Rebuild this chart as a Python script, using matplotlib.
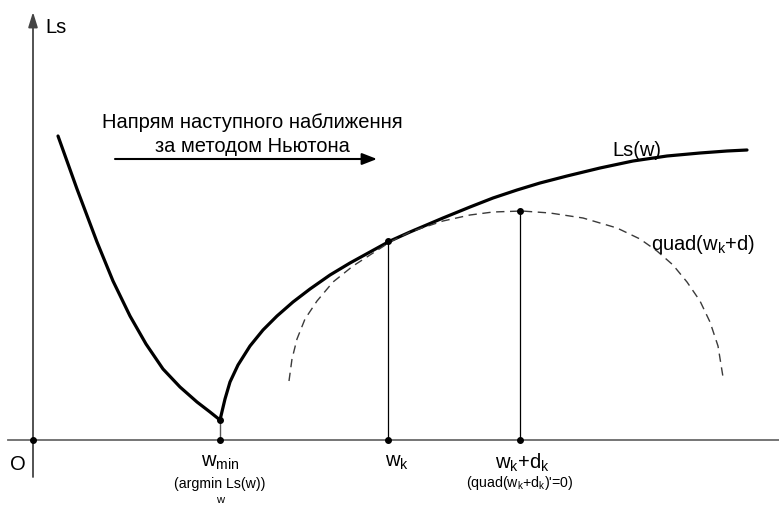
import matplotlib.pyplot as plt

plt.rcParams['font.family'] = ['Liberation Sans', 'DejaVu Sans']
plt.rcParams['mathtext.fontset'] = 'custom'
plt.rcParams['mathtext.rm'] = 'Liberation Sans'
plt.rcParams['mathtext.it'] = 'Liberation Sans'

# loss curve Ls(w), left branch down to the minimum and right branch after it
ls_left_w = [25, 44, 64, 80, 97, 113, 130, 147, 164, 177, 187]
ls_left_v = [304, 251, 198, 159, 124, 96, 71, 53, 38, 28, 20]
ls_right_w = [187, 192, 197, 205, 217, 230, 244, 260, 277, 297, 317, 337, 357, 377, 410, 437,
              460, 484, 507, 534, 567, 600, 634, 667, 694, 714]
ls_right_v = [20, 41, 58, 75, 94, 110, 124, 138, 151, 165, 177, 188, 199, 208, 222, 233,
              242, 250, 257, 264, 272, 279, 284, 287, 289, 290]

# quadratic model around w_k
quad_w = [256, 259, 264, 272, 284, 300, 320, 357, 377, 410, 437, 460, 489, 517, 550, 584,
          607, 624, 640, 654, 667, 677, 685, 690]
quad_v = [59, 81, 101, 121, 139, 158, 174, 198, 208, 219, 225, 228, 229, 227, 222, 212,
          201, 189, 175, 158, 139, 118, 94, 63]

# marked points: w_min, w_k, w_k + d_k
w_min, ls_min = 187, 20
w_k, ls_k = 355, 199
w_next, quad_peak = 487, 229

fig = plt.figure(figsize=(7.79, 5.06), dpi=100)
ax = fig.add_axes([0, 0, 1, 1])
ax.set_xlim(-33, 746)
ax.set_ylim(-65, 441)
ax.axis('off')

axis_col = '#6a6a6a'
# axes
ax.plot([-25, 746], [0, 0], color=axis_col, lw=1.3, zorder=1)
ax.annotate('', xy=(0, 428), xytext=(0, -37),
            arrowprops=dict(arrowstyle='-|>,head_length=0.9,head_width=0.28',
                            color='#444444', lw=1.3, shrinkA=0, shrinkB=0))

# curves
ax.plot(ls_left_w, ls_left_v, color='black', lw=2.3, solid_capstyle='round', solid_joinstyle='round')
ax.plot(ls_right_w, ls_right_v, color='black', lw=2.3, solid_capstyle='round', solid_joinstyle='round')
ax.plot(quad_w, quad_v, color='#3a3a3a', lw=1.0, dashes=(6, 4))

# drop lines
ax.plot([w_min, w_min], [0, ls_min], color='#555555', lw=1.0)
ax.plot([w_k, w_k], [0, ls_k], color='black', lw=0.9)
ax.plot([w_next, w_next], [0, quad_peak], color='black', lw=0.9)

# dots
ax.plot([0, w_min, w_k, w_next, w_min, w_k, w_next], [0, 0, 0, 0, ls_min, ls_k, quad_peak],
        'o', color='black', ms=4, zorder=5)

# Newton step direction arrow
ax.annotate('', xy=(344, 281), xytext=(82, 281),
            arrowprops=dict(arrowstyle='-|>,head_length=0.9,head_width=0.35',
                            color='black', lw=1.5, shrinkA=0, shrinkB=0))

big = 14.5
small = 10.2
ax.text(12, 414, 'Ls', fontsize=big, ha='left', va='center')
ax.text(-15, -24, 'O', fontsize=big, ha='center', va='center')
ax.text(219, 319, 'Напрям наступного наближення', fontsize=big, ha='center', va='center')
ax.text(219, 294, 'за методом Ньютона', fontsize=big, ha='center', va='center')
ax.text(604, 291, 'Ls(w)', fontsize=big, ha='center', va='center')
ax.text(670, 196, r'quad(w$_\mathrm{k}$+d)', fontsize=big, ha='center', va='center')

ax.text(w_min, -22, r'w$_\mathrm{min}$', fontsize=big, ha='center', va='center')
ax.text(w_min, -43, '(argmin Ls(w))', fontsize=small, ha='center', va='center')
ax.text(w_min, -59, 'w', fontsize=8, ha='center', va='center')
ax.text(w_k + 9, -22, r'w$_\mathrm{k}$', fontsize=big, ha='center', va='center')
ax.text(w_next + 2, -22, r'w$_\mathrm{k}$+d$_\mathrm{k}$', fontsize=big, ha='center', va='center')
ax.text(w_next, -42, r"(quad(w$_\mathrm{k}$+d$_\mathrm{k}$)'=0)", fontsize=small, ha='center', va='center')

fig.savefig('out.png', dpi=100, facecolor='white')
